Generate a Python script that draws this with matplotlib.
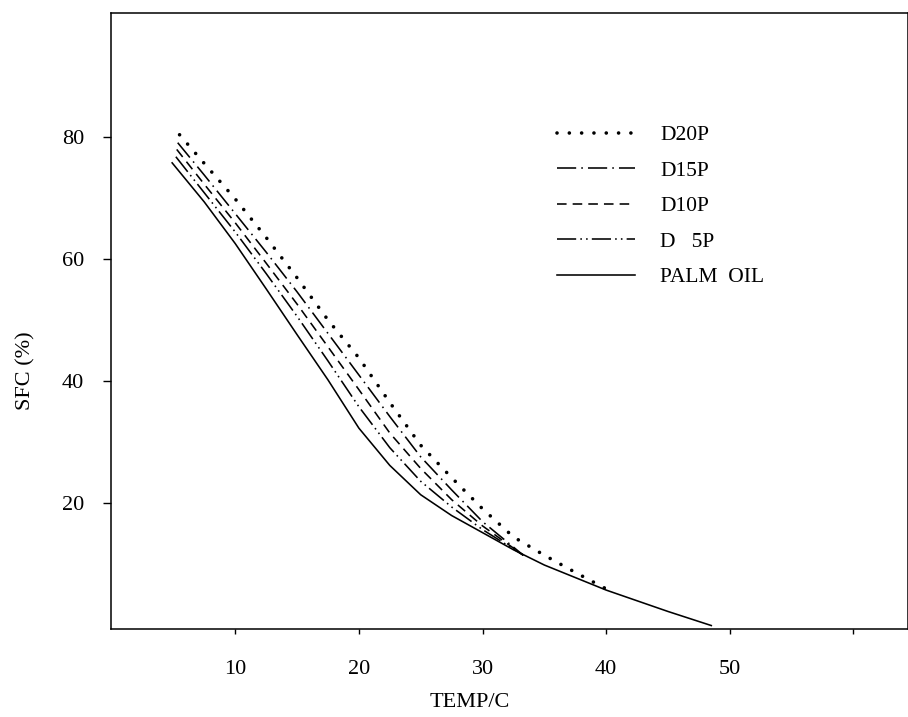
import matplotlib
matplotlib.use("Agg")
import matplotlib.pyplot as plt

# data (temperature in C, solid fat content in %)
d20p_temp = [5.5, 7.5, 10, 12.5, 15, 17.5, 20, 22.5, 25, 27.5, 30, 32.5, 35, 37.5, 40]
d20p_sfc = [80.3, 75.6, 69.8, 63.5, 56.9, 50.0, 43.8, 36.5, 29.5, 24.2, 19.1, 14.5, 11.5, 8.7, 6.0]

d15p_temp = [5.35, 7.5, 10, 12.5, 15, 17.5, 20, 22.5, 25, 27.5, 30, 33.3]
d15p_sfc = [79.0, 73.7, 67.4, 61.1, 54.6, 47.8, 41.0, 34.2, 27.6, 22.2, 17.0, 11.5]

d10p_temp = [5.27, 7.5, 10, 12.5, 15, 17.5, 20, 22.5, 25, 27.5, 30, 33.3]
d10p_sfc = [77.9, 72.2, 65.9, 59.3, 52.6, 45.6, 38.6, 31.5, 25.7, 20.6, 16.3, 11.5]

d5p_temp = [5.2, 7.5, 10, 12.5, 15, 17.5, 20, 22.5, 25, 27.5, 30, 33.3]
d5p_sfc = [76.7, 70.8, 64.4, 57.6, 50.6, 43.3, 35.8, 29.1, 23.6, 19.4, 15.7, 11.5]

palm_temp = [4.9, 7.5, 10, 12.5, 15, 17.5, 20, 22.5, 25, 27.5, 30, 32.5, 35, 40, 45, 48.5]
palm_sfc = [75.7, 69.3, 62.5, 55.1, 47.6, 40.2, 32.3, 26.2, 21.4, 18.0, 15.2, 12.4, 9.9, 5.8, 2.3, 0.0]

x_ticks = [10, 20, 30, 40, 50, 60]
x_tick_labels = ["10", "20", "30", "40", "50", ""]
y_ticks = [20, 40, 60, 80]

plt.rcParams['font.family'] = ['Liberation Serif', 'DejaVu Serif']

fig = plt.figure(figsize=(9.08, 7.17), dpi=100)
ax = fig.add_axes([0.1219, 0.1227, 0.878, 0.859])

ax.plot(d20p_temp, d20p_sfc, color='black', lw=2.6, dashes=(0.01, 3.4),
        dash_capstyle='round', label='D20P')
ax.plot(d15p_temp, d15p_sfc, color='black', lw=1.15, dashes=(12, 3.2, 1, 3.2),
        label='D15P')
ax.plot(d10p_temp, d10p_sfc, color='black', lw=1.15, dashes=(6, 3.8),
        label='D10P')
ax.plot(d5p_temp, d5p_sfc, color='black', lw=1.15, dashes=(12, 2.6, 1, 2.6, 1, 2.6),
        label='D   5P')
ax.plot(palm_temp, palm_sfc, color='black', lw=1.15, label='PALM  OIL')

ax.set_xlim(-0.07, 64.4)
ax.set_ylim(-0.57, 100.2)
ax.set_xticks(x_ticks)
ax.set_xticklabels(x_tick_labels)
ax.set_yticks(y_ticks)

ax.tick_params(axis='x', direction='out', length=3.6, width=1.0, pad=19, labelsize=16)
ax.tick_params(axis='y', direction='out', length=5.8, width=1.0, pad=13.5, labelsize=16)
for s in ax.spines.values():
    s.set_linewidth(1.1)

ax.set_xlabel("TEMP/C", fontsize=16)
ax.set_ylabel("SFC (%)", fontsize=16)
ax.xaxis.set_label_coords(0.451, -0.104)
ax.yaxis.set_label_coords(-0.094, 0.42)

ax.legend(loc='upper left', bbox_to_anchor=(557 / 908, 1 - 125 / 717),
          bbox_transform=fig.transFigure, frameon=False, fontsize=15.5,
          handlelength=3.6, handletextpad=1.2, labelspacing=0.72,
          borderpad=0, borderaxespad=0)

fig.savefig("out.png", dpi=100)
